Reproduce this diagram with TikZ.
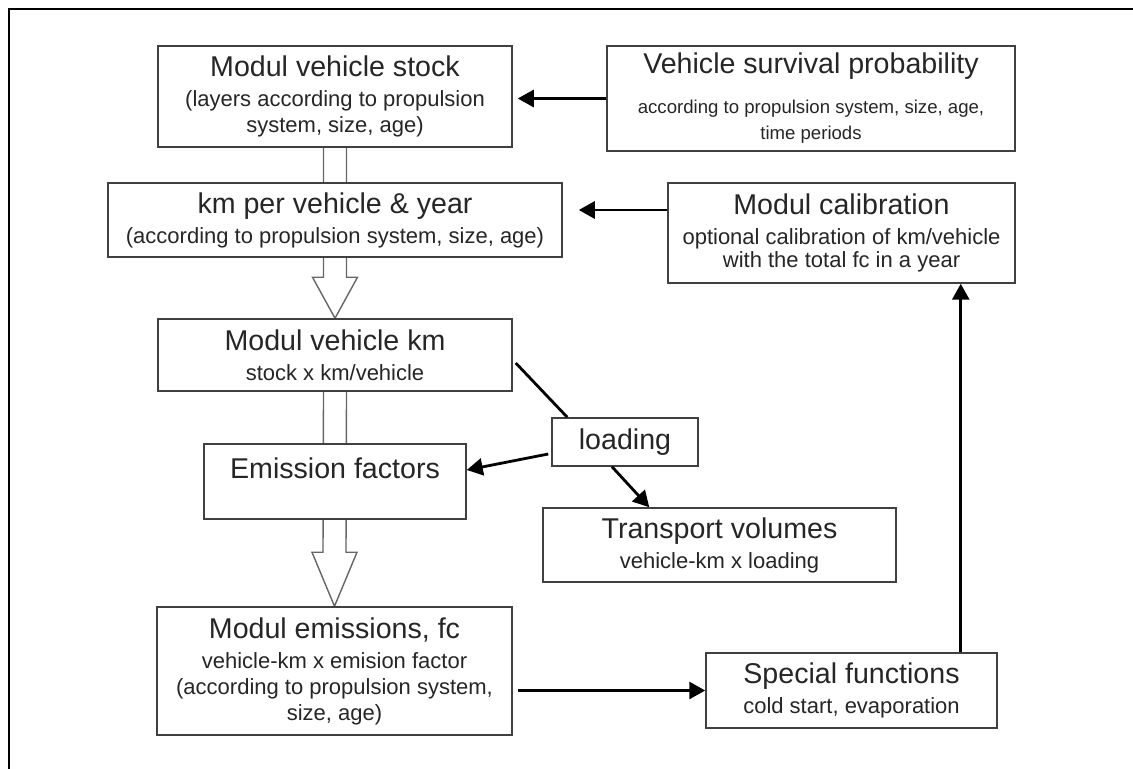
\documentclass[tikz,border=0pt]{standalone}
\usepackage{fontspec}
\setmainfont{Liberation Sans}
\usetikzlibrary{arrows.meta,calc,backgrounds}

\tikzset{
  box/.style={draw=black!75, line width=0.75pt, fill=white, text=black!85, align=center,
    inner sep=0pt, font=\fontsize{14.3}{13}\selectfont},
  dim/.style 2 args={minimum width=#1*0.5pt, minimum height=#2*0.5pt},
  arr/.style={line width=1.4pt, -{Triangle[length=8pt,width=8.5pt]}},
  link/.style={line width=1.4pt},
  hollow/.style={draw=black!60, line width=0.7pt, fill=white},
  frame/.style={line width=1.3pt}
}
\newcommand{\subtxt}{\fontsize{11}{13}\selectfont}
\newcommand{\smalltxt}{\fontsize{9.3}{12.5}\selectfont}
% wide hollow arrow: from, to, head length
\newcommand{\blockarrow}[3]{%
  \draw[hollow] ($(#1.south)+(-11.5,0)$) -- ($(#2.north)+(-11.5,-#3)$)
    -- ($(#2.north)+(-22.5,-#3)$) -- (#2.north) -- ($(#2.north)+(22.5,-#3)$)
    -- ($(#2.north)+(11.5,-#3)$) -- ($(#1.south)+(11.5,0)$);}

\begin{document}
\begin{tikzpicture}[x=0.5pt, y=-0.5pt]
    \useasboundingbox (0,0) rectangle (1133,769);
    \draw[frame] (1133,9) -- (9,9) -- (9,769);

    \node[box, dim={354}{101}] (stock) at (335,96.5) {Modul vehicle stock\\[2pt] \subtxt (layers according to propulsion\\ \subtxt system, size, age)};
    \node[box, dim={408}{105}] (surv) at (811,98.5) {Vehicle survival probability\\[7pt] \smalltxt according to propulsion system, size, age,\\ \smalltxt time periods};
    \node[box, dim={454}{74}] (km) at (335,220) {km per vehicle \& year\\[2pt] \subtxt (according to propulsion system, size, age)};
    \node[box, dim={347}{100}] (calib) at (841.5,233) {Modul calibration\\[2pt] \subtxt optional calibration of km/vehicle\\[-1.5pt] \subtxt with the total fc in a year};
    \node[box, dim={354}{72}] (vkm) at (335,355) {Modul vehicle km\\[2pt] \subtxt stock x km/vehicle};
    \node[box, dim={262}{75}] (ef) at (335,481.5) {\raisebox{6.75pt}[\height][\depth]{Emission factors}};
    \node[box, dim={146}{48}] (load) at (625,442) {loading};
    \node[box, dim={353}{74}] (tv) at (719.5,545) {Transport volumes\\[2pt] \subtxt vehicle-km x loading};
    \node[box, dim={355}{128}] (emis) at (334.5,671) {Modul emissions, fc\\[2pt] \subtxt vehicle-km x emision factor\\ \subtxt (according to propulsion system,\\ \subtxt size, age)};
    \node[box, dim={291}{75}] (spec) at (851.5,690.5) {Special functions\\[2pt] \subtxt cold start, evaporation};

    \begin{pgfonlayer}{background}
        \blockarrow{stock}{vkm}{41}
        \blockarrow{vkm}{emis}{54}
    \end{pgfonlayer}

    \coordinate (kmin) at ([yshift=5pt]km.east);
    \coordinate (specup) at ([xshift=-18.5pt]spec.north east);
    \draw[arr, shorten >=2.5pt] (surv.west) -- (surv.west -| stock.east);
    \draw[arr, shorten >=8pt] (calib.west |- kmin) -- (kmin);
    \draw[arr] (specup) -- (specup |- calib.south);
    \draw[arr, shorten <=2.5pt] (emis.east |- spec.west) -- (spec.west);
    \draw[link] ([shift={(1.5pt,-4pt)}]vkm.east) -- ([xshift=8pt]load.north west);
    \draw[arr] ([xshift=-6.5pt]load.south) -- ([xshift=53.5pt]tv.north west);
    \draw[arr] ([shift={(-1.5pt,-6pt)}]load.west) -- ([yshift=5.75pt]ef.east);
\end{tikzpicture}
\end{document}
